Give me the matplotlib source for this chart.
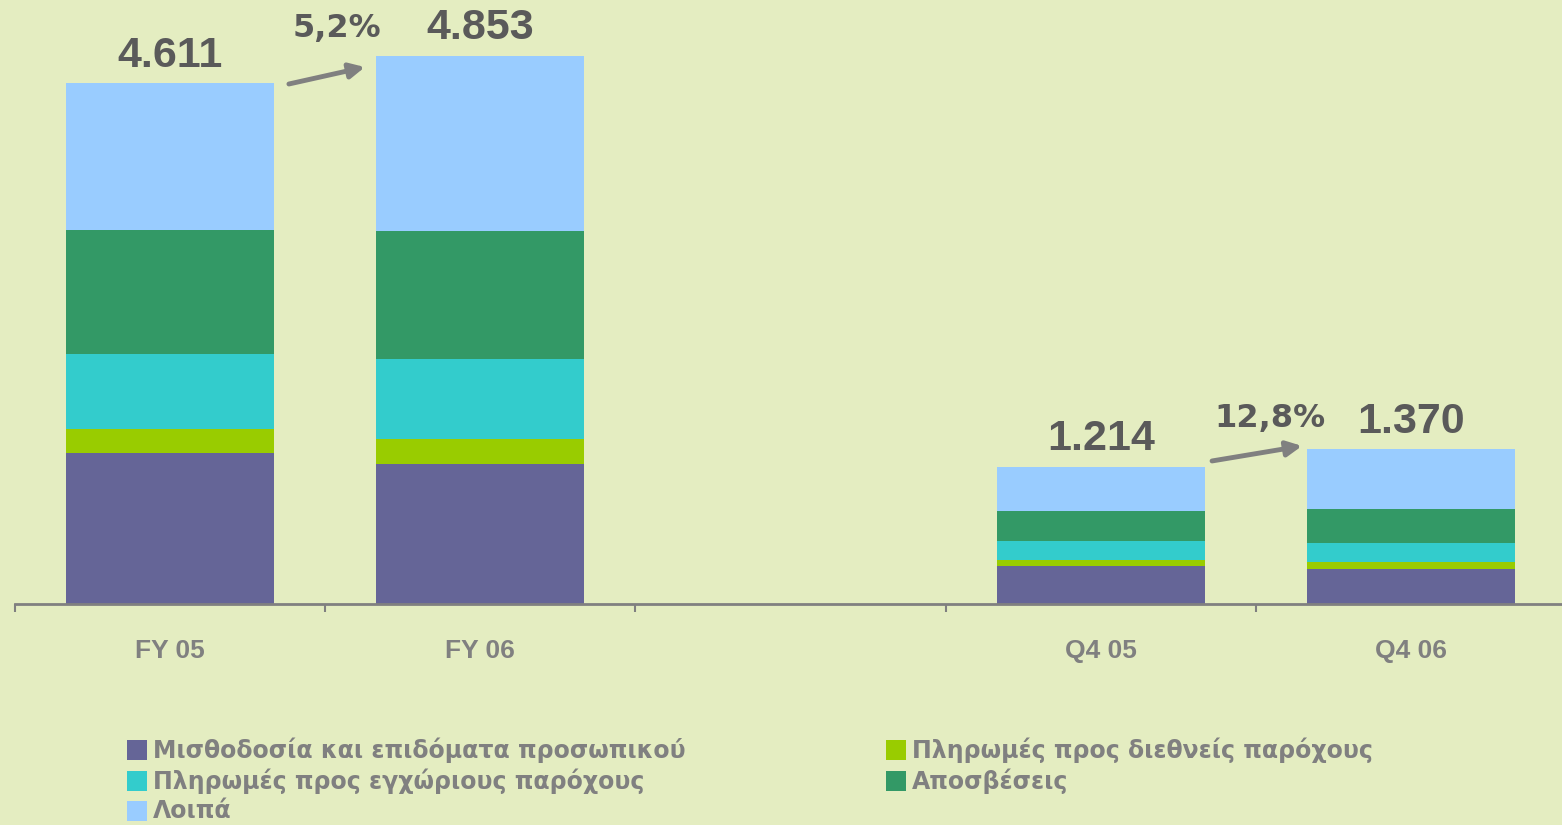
import numpy as np
import matplotlib
matplotlib.use("Agg")
import matplotlib.pyplot as plt
from matplotlib.patches import Rectangle

# ── data ─────────────────────────────────────
categories = ['FY 05', 'FY 06', '', 'Q4 05', 'Q4 06']
positions  = [0, 1, 3, 4]           # slot 2 is empty

payroll      = [1339, 1241, 336, 310]   # Μισθοδοσία και επιδόματα προσωπικού
intl_pay     = [213, 221, 53, 62]       # Πληρωμές προς διεθνείς παρόχους
local_pay    = [665, 707, 168, 168]     # Πληρωμές προς εγχώριους παρόχους
depreciation = [1099, 1131, 266, 301]   # Αποσβέσεις
other        = [1295, 1553, 391, 529]   # Λοιπά
totals       = [4611, 4853, 1214, 1370]

series = [
    ('Μισθοδοσία και επιδόματα προσωπικού', payroll,      '#656597'),
    ('Πληρωμές προς διεθνείς παρόχους',     intl_pay,     '#99CC00'),
    ('Πληρωμές προς εγχώριους παρόχους',    local_pay,    '#33CCCC'),
    ('Αποσβέσεις',                          depreciation, '#339966'),
    ('Λοιπά',                               other,        '#99CCFF'),
]

pct_labels = ['5,2%', '12,8%']
pct_pos    = [(0.538, 5022), (3.546, 1568)]
# arrows: (x0, y0, x1, y1) in data units
arrows = [(0.383, 4606, 0.628, 4756), (3.359, 1267, 3.649, 1400)]

BG = '#E4EDC1'
DARK = '#5A5A5A'
GREY = '#808080'

W, H = 1562, 825
fig = plt.figure(figsize=(W / 100, H / 100), dpi=100, facecolor=BG)
ax = fig.add_axes([15 / W, (H - 604) / H, 1551 / W, 604 / H])
ax.set_facecolor(BG)

bar_w = 0.67
bottom = np.zeros(len(positions))
for name, vals, col in series:
    ax.bar(positions, vals, bar_w, bottom=bottom, color=col, label=name, linewidth=0)
    bottom += np.array(vals)

# totals
for x, t in zip(positions, totals):
    ax.annotate(f"{t:,}".replace(',', '.'), (x, t), xytext=(0, 12), textcoords='offset points',
                ha='center', va='baseline', fontsize=31, fontweight='bold', color=DARK,
                family='Liberation Sans')

# growth arrows and percentages
for (x0, y0, x1, y1), lab, (px, py) in zip(arrows, pct_labels, pct_pos):
    ax.annotate('', xy=(x1, y1), xytext=(x0, y0),
                arrowprops=dict(arrowstyle='-|>,head_length=0.9,head_width=0.45',
                                color=GREY, lw=3.5, shrinkA=0, shrinkB=0))
    ax.text(px, py, lab, ha='center', va='baseline', fontsize=23, fontweight='bold',
            color=DARK, family='DejaVu Sans')

ax.set_xlim(-0.5, 4.5)
ax.set_ylim(0, 5350)
ax.set_yticks([])
for s in ['top', 'right', 'left']:
    ax.spines[s].set_visible(False)
ax.spines['bottom'].set_color(GREY)
ax.spines['bottom'].set_linewidth(2)

ax.set_xticks(range(len(categories)))
ax.set_xticklabels(categories, fontsize=19, fontweight='bold', color=GREY, family='Liberation Sans')
ax.tick_params(axis='x', which='major', length=0, pad=25)
ax.set_xticks(np.arange(-0.5, 5.0, 1.0), minor=True)
ax.tick_params(axis='x', which='minor', length=6, width=1.5, color=GREY, direction='out')

# legend (manual, two columns)
legend_order = [0, 2, 4, 1, 3]
col_x = [127, 886]
row_y = [750, 781, 811]
for k, idx in enumerate(legend_order):
    name, _, col = series[idx]
    cx = col_x[k // 3]
    cy = row_y[k % 3]
    fig.add_artist(Rectangle((cx / W, (H - cy - 10) / H), 20 / W, 20 / H,
                             transform=fig.transFigure, facecolor=col, edgecolor='none'))
    fig.text((cx + 26) / W, (H - cy) / H, name, ha='left', va='center',
             fontsize=17, fontweight='bold', color=GREY, family='DejaVu Sans')

fig.savefig('out.png', dpi=100, facecolor=BG)
